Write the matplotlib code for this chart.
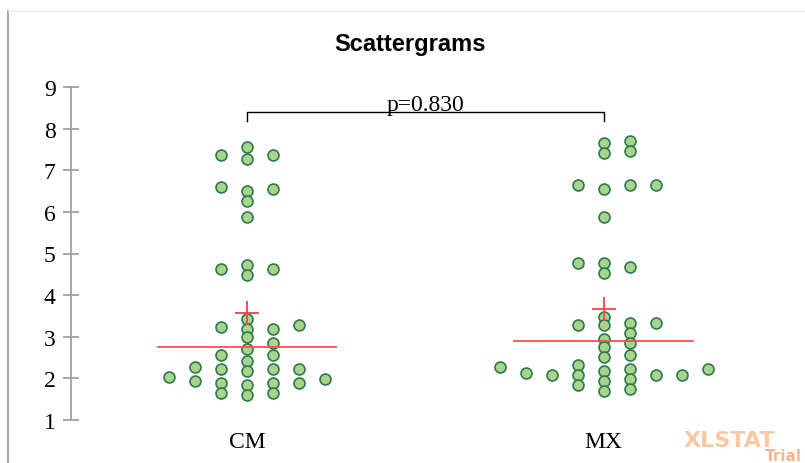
import matplotlib.pyplot as plt
from matplotlib.lines import Line2D
import numpy as np

groups = ['CM', 'MX']
cm = [7.56, 7.37, 7.37, 7.27, 6.60, 6.55, 6.50, 6.26, 5.87, 4.73, 4.63, 4.63, 4.49,
      3.43, 3.28, 3.24, 3.19, 3.19, 2.99, 2.85, 2.71, 2.56, 2.56, 2.42, 2.27,
      2.23, 2.23, 2.23, 2.18, 2.03, 1.99, 1.94, 1.89, 1.89, 1.89, 1.84, 1.65, 1.65, 1.60]
mx = [7.70, 7.66, 7.46, 7.42, 6.65, 6.65, 6.65, 6.55, 5.87, 4.77, 4.77, 4.68, 4.53,
      3.48, 3.33, 3.33, 3.28, 3.28, 3.09, 2.95, 2.85, 2.75, 2.56, 2.51, 2.32,
      2.27, 2.23, 2.23, 2.18, 2.13, 2.08, 2.08, 2.08, 2.08, 1.99, 1.94, 1.84, 1.75, 1.70]
medians = [2.76, 2.90]
means = [3.58, 3.66]
p_value = 0.830

serif = 'Liberation Serif'

fig = plt.figure(figsize=(8.05, 4.64), dpi=100)
ax = fig.add_axes([71 / 805, 43 / 464, 711 / 805, 333 / 464])
ax.set_xlim(-0.493, 1.5)
ax.set_ylim(1, 9)


def swarm(values, center, step_px=26, gap_px=8):
    # column layout: each point goes to the innermost column that is free
    px_x = ax.bbox.width / (ax.get_xlim()[1] - ax.get_xlim()[0])
    px_y = ax.bbox.height / (ax.get_ylim()[1] - ax.get_ylim()[0])
    order = np.argsort(values)
    last = {}
    xs = np.zeros(len(values))
    for i in order:
        y = values[i] * px_y
        k = 0
        while True:
            col = (k + 1) // 2 * (1 if k % 2 else -1)
            if col not in last or y - last[col] >= gap_px:
                break
            k += 1
        last[col] = y
        xs[i] = center + col * step_px / px_x
    return xs


for i, vals in enumerate([cm, mx]):
    xs = swarm(vals, i)
    ax.scatter(xs, vals, s=62, facecolor='#a8d48f', edgecolor='#2c7a48',
               linewidth=1.2, zorder=3)
    ax.plot([i - 0.25, i + 0.25], [medians[i]] * 2, color='#ff4d4d', lw=1.3, zorder=4)
    ax.plot(i, means[i], marker='+', markersize=17, mew=1.4, color='#ff4d4d', zorder=4)

# bracket with the test result
ax.plot([0, 0, 1, 1], [8.19, 8.40, 8.40, 8.19], color='black', lw=1)
ax.text(0.5, 8.45, 'p=%.3f' % p_value, ha='center', va='baseline',
        fontsize=17, family=serif)

for side in ['top', 'right', 'bottom']:
    ax.spines[side].set_visible(False)
ax.spines['left'].set_color('#a0a0a0')
ax.spines['left'].set_linewidth(1.3)
ax.set_yticks(range(1, 10))
ax.tick_params(axis='y', direction='inout', length=12, width=1.3, color='#a0a0a0',
               labelsize=17, pad=5)
ax.set_xticks([0, 1], groups)
ax.tick_params(axis='x', length=0, labelsize=17, pad=8)
for lab in ax.get_xticklabels() + ax.get_yticklabels():
    lab.set_family(serif)

fig.text(410 / 805, 1 - 45 / 464, 'Scattergrams', ha='center', va='center',
         fontsize=17, fontweight='bold', family='Liberation Sans')

# chart frame
fig.add_artist(Line2D([8 / 805, 8 / 805], [0, 1 - 12 / 464], color='#a8a8a8', lw=1.5))
fig.add_artist(Line2D([8 / 805, 1], [1 - 12 / 464] * 2, color='#ececec', lw=1))

fig.text(684 / 805, 1 - 441 / 464, 'XLSTAT', ha='left', va='center', fontsize=16,
         fontweight='bold', family='DejaVu Sans', color='#fbc8a6')
fig.text(802 / 805, 1 - 457 / 464, 'Trial', ha='right', va='center', fontsize=11,
         fontweight='bold', family='DejaVu Sans', color='#f6b68e')

fig.savefig('out.png', dpi=100)
